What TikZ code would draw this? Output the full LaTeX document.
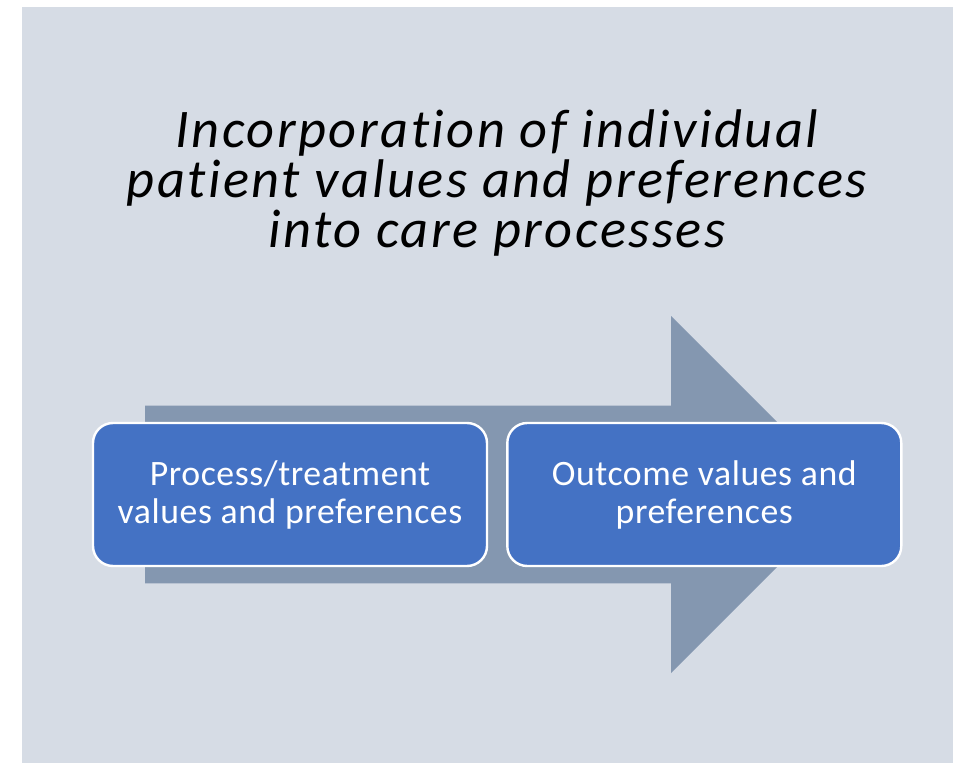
\documentclass[tikz,border=0pt]{standalone}
\usepackage{fontspec}
\setmainfont{Carlito}[Ligatures=CommonOff]
\newfontfamily\headingfont{Carlito}[Ligatures=CommonOff, LetterSpace=4.6]
\newfontfamily\stagefont{Carlito}[Ligatures=CommonOff, LetterSpace=1.6]
\definecolor{slidebg}{HTML}{D6DCE5}
\definecolor{arrowfill}{HTML}{8497B0}
\definecolor{boxfill}{HTML}{4472C4}
\begin{document}
\begin{tikzpicture}[x=0.75pt,y=-0.75pt,
  stagebox/.style={draw=white, line width=1.8pt, fill=boxfill, rounded corners=15pt,
    minimum width=394*0.75pt, minimum height=143*0.75pt, inner sep=0pt,
    text=white, align=center, font=\stagefont\fontsize{26.8}{28.5}\selectfont},
  titletext/.style={align=center, font=\headingfont\itshape\fontsize{40.8}{37.5}\selectfont, inner sep=0pt}]
  \useasboundingbox (0,0) rectangle (953,763);
  % slide background
  \fill[slidebg] (22,7.5) rectangle (953,763);
  % heading
  \node[titletext] (title) at (497,183)
    {Incorporation of individual\\patient values and preferences\\into care processes};
  % broad block arrow behind the two stages
  \fill[arrowfill] (145,405.7) -- (671,405.7) -- (671,316) -- (849.5,494.5)
    -- (671,673) -- (671,583.3) -- (145,583.3) -- cycle;
  % the two stages
  \node[stagebox] (process) at (290,494.5) {Process/treatment\\values and preferences};
  \node[stagebox] (outcome) at (704.3,494.5) {Outcome values and\\preferences};
\end{tikzpicture}
\end{document}
